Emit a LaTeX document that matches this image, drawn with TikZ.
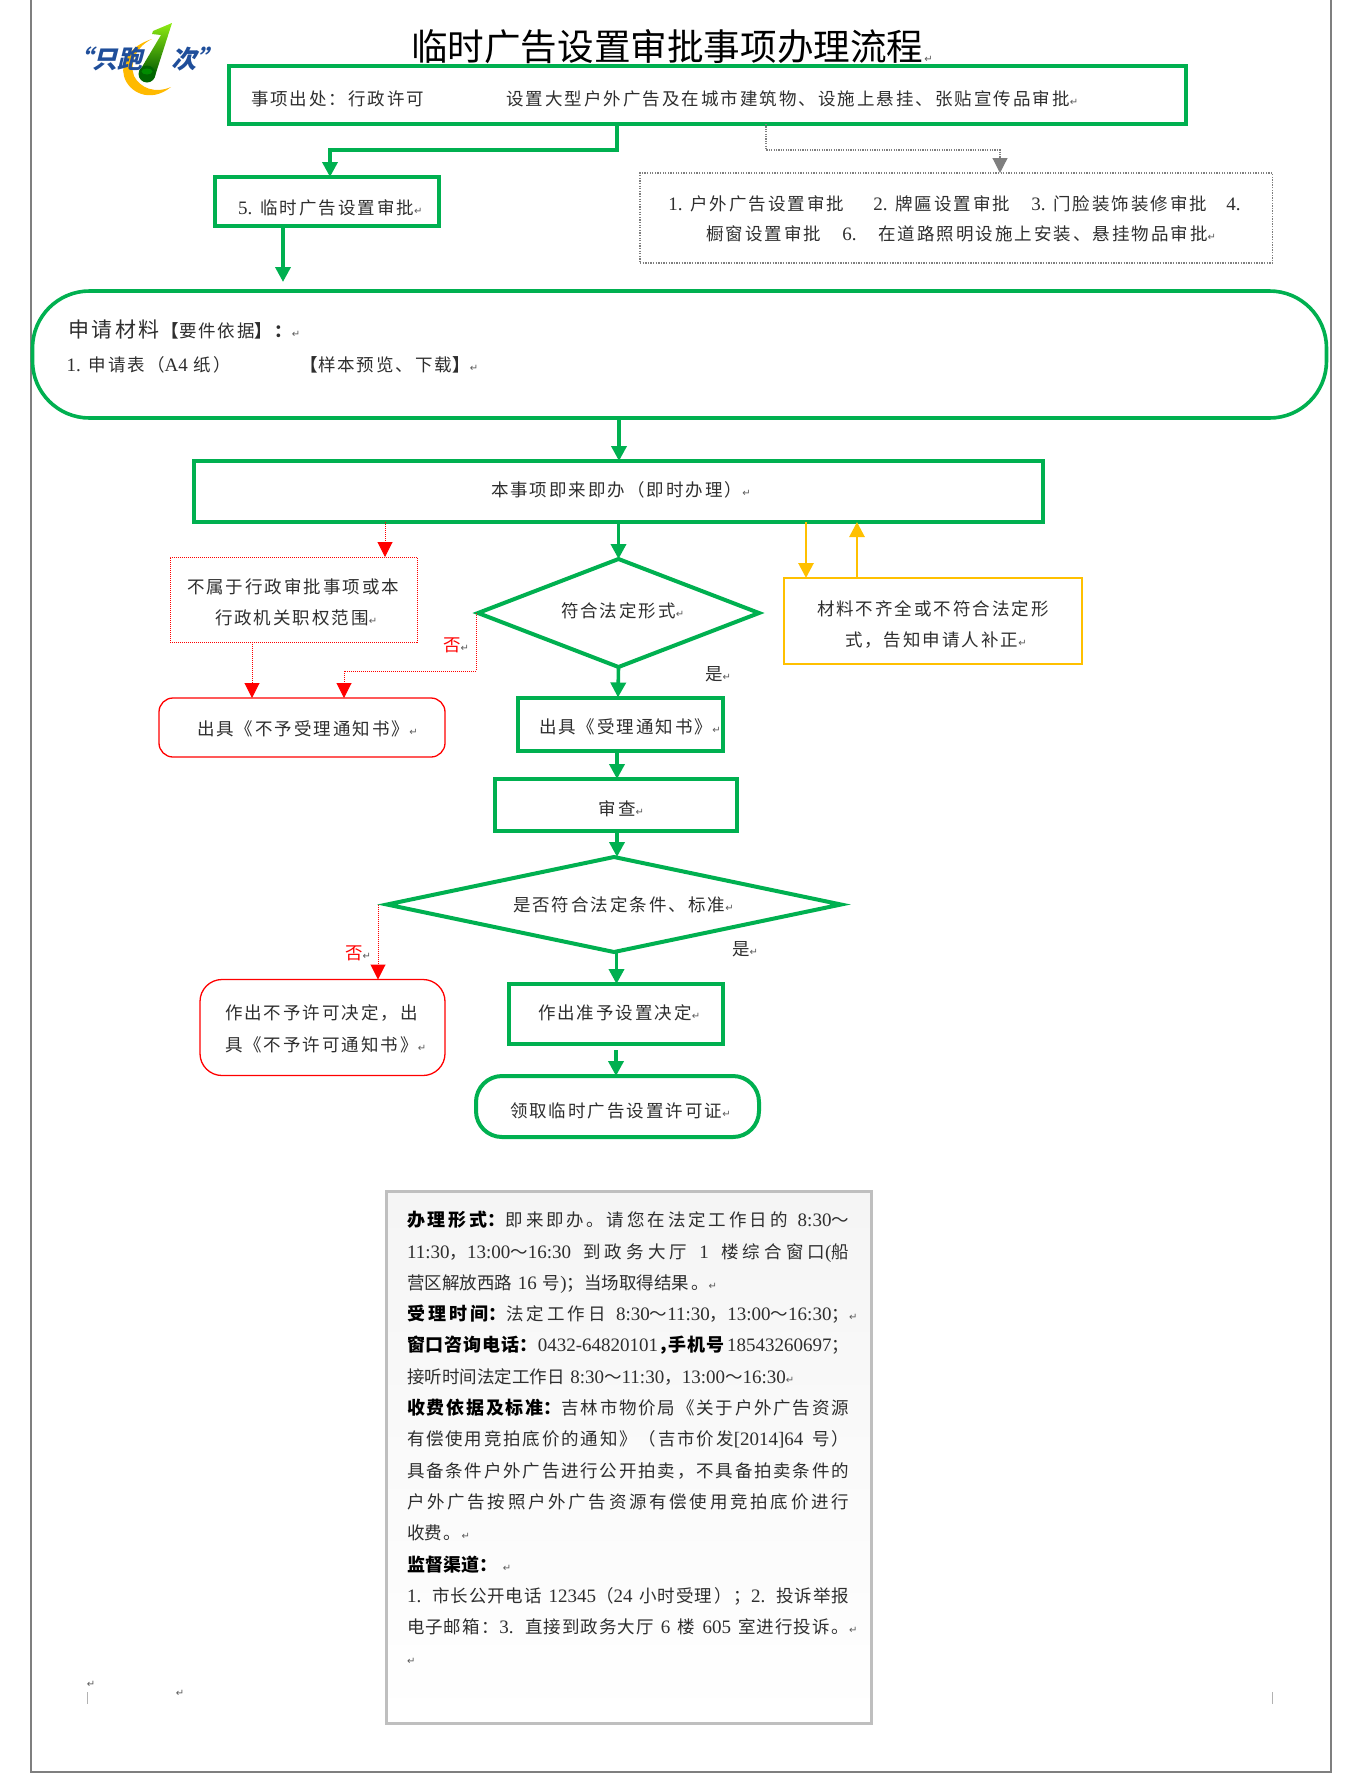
\documentclass[tikz,border=0pt]{standalone}
\usepackage{fontspec}
\usetikzlibrary{arrows.meta,calc,shapes.geometric}
\setmainfont{Noto Sans CJK SC}[LetterSpace=11.4]
\newfontfamily\plainf{Noto Sans CJK SC}
\newfontfamily\logof{Noto Sans CJK SC}[FakeSlant=0.25]
\newfontfamily\latf{Liberation Serif}
\newfontfamily\dejavu{DejaVu Sans}
\definecolor{gr}{HTML}{00B050}
\definecolor{rd}{HTML}{FF0000}
\definecolor{yl}{HTML}{FFC000}
\definecolor{gy}{HTML}{7F7F7F}
\definecolor{bodyc}{HTML}{2E2E2E}
\definecolor{markc}{HTML}{5A5A5A}
\definecolor{logob}{HTML}{1F4E9A}
\newcommand\tx[3]{\raisebox{\dimexpr-#2pt-7.3pt\relax}[0pt][0pt]{\makebox[0pt][l]{\kern#1pt\relax #3}}}
\newcommand\rmk{{\dejavu\fontsize{10}{10}\selectfont\textcolor{markc}{↵}}}
\newcommand\dg[1]{{\latf\fontsize{19}{31.3}\selectfont #1}}
\newcommand\hd[1]{{\plainf\bfseries\fontsize{18}{31.3}\selectfont\color{black}#1}}
\tikzset{
  x=1pt,y=-1pt,
  every node/.style={inner sep=0pt,outer sep=0pt,text=bodyc,font=\fontsize{17.5}{20}\selectfont},
  gbox/.style={draw=gr,line width=4pt,rectangle},
  gdia/.style={draw=gr,line width=4pt,diamond},
  rdot/.style={draw=rd,line width=1pt,densely dotted,rectangle},
  rrnd/.style={draw=rd,line width=1.3pt,rectangle},
  ylbox/.style={draw=yl,line width=2.8pt,rectangle},
  gydot/.style={draw=gy,line width=1.3pt,dash pattern=on 1.3pt off 1.3pt,rectangle},
  garrow/.style={draw=gr,line width=3.6pt,-{Triangle[length=15pt,width=15pt,fill=gr]}},
  rarrow/.style={draw=rd,line width=1pt,densely dotted,-{Triangle[length=15pt,width=15pt,fill=rd]}},
  yarrow/.style={draw=yl,line width=2.8pt,-{Triangle[length=15pt,width=15pt,fill=yl]}},
  gyarrow/.style={draw=gy,line width=1.2pt,dash pattern=on 1.2pt off 1.2pt,-{Triangle[length=15pt,width=15pt,fill=gy]}},
  pageline/.style={draw=gy,line width=1.6pt},
  ticksty/.style={draw=gray!60,line width=.8pt},
  logotext/.style={anchor=west,text=logob,font=\logof\bfseries\fontsize{25}{25}\selectfont},
}
\begin{document}
\begin{tikzpicture}
\useasboundingbox (0,0) rectangle (1364,1781);
% page frame
\draw[pageline] (31,0) -- (31,1772) -- (1331,1772) -- (1331,0);

% logo
\fill[yl!90!orange] (152,39) .. controls (130,46) and (120,62) .. (124,76)
  .. controls (128,92) and (150,104) .. (171,87)
  .. controls (155,94) and (140,88) .. (134,76)
  .. controls (129,62) and (137,46) .. (152,39) -- cycle;
\shade[top color=gr!30!yellow!80!green, bottom color=green!35!black]
  (172,23) -- (155,76) -- (139,72) -- (161,35) -- (152,34) -- (153,31) -- cycle;
\fill[green!40!black] (147,74) circle (8.5);
\fill[green!55!black] (147,71.5) ellipse (5.5 and 3);
\node[logotext] (logoa) at (67,59) {“只跑};
\node[logotext] (logob) at (171,59) {次”};

% title
\node[anchor=west,text=black,font=\plainf\fontsize{36.6}{36.6}\selectfont] (title) at (411,47) {临时广告设置审批事项办理流程\hspace{1pt}\raisebox{-2pt}{\rmk}};

% boxes
\node[gbox,minimum width=957pt,minimum height=58pt] (box1) at (707.5,95)
  {\tx{-456.5}{3}{事项出处：行政许可}\tx{-201}{3}{设置大型户外广告及在城市建筑物、设施上悬挂、张贴宣传品审批\rmk}};
\node[gbox,minimum width=224pt,minimum height=49pt] (box2) at (327,201.5)
  {\tx{-89}{5.5}{\dg{5.} 临时广告设置审批\rmk}};
\node[gydot,minimum width=632.5pt,minimum height=90pt] (dotbox) at (956.25,218)
  {\tx{-288}{-15}{\dg{1.} 户外广告设置审批}\tx{-83}{-15}{\dg{2.} 牌匾设置审批}\tx{75}{-15}{\dg{3.} 门脸装饰装修审批}\tx{270}{-15}{\dg{4.}}%
   \tx{-250}{15}{橱窗设置审批}\tx{-114}{15}{\dg{6.}}\tx{-78}{15}{在道路照明设施上安装、悬挂物品审批\rmk}};
\node[gbox,line width=3.6pt,rounded corners=57pt,minimum width=1294pt,minimum height=127pt] (bigbox) at (679.5,354.5)
  {\tx{-611}{-24.5}{\fontsize{21}{24}\selectfont 申请材料}\tx{-518}{-24.5}{{\bfseries 【}要件依据{\bfseries 】：}\rmk}%
   \tx{-613}{9.5}{\dg{1.} 申请表（\dg{A4} 纸）}\tx{-379}{9.5}{{\bfseries 【}样本预览、下载{\bfseries 】}\rmk}};
\node[gbox,minimum width=849pt,minimum height=61pt] (box3) at (618.5,491.5)
  {\tx{-127.5}{-2.5}{本事项即来即办（即时办理）\rmk}};
\node[rdot,minimum width=247pt,minimum height=85pt] (redbox) at (293.5,599.5)
  {\tx{-106.5}{-13.5}{不属于行政审批事项或本}\tx{-78.5}{17.5}{行政机关职权范围\rmk}};
\node[rrnd,rounded corners=14pt,minimum width=286pt,minimum height=59pt] (redr1) at (302,727.5)
  {\tx{-105}{0.5}{出具《不予受理通知书》\rmk}};
\node[gdia,minimum width=281pt,minimum height=108pt] (dia1) at (618.5,613)
  {\tx{-57.5}{-3}{符合法定形式\rmk}};
\node[gbox,minimum width=205pt,minimum height=53pt] (box4) at (620,724)
  {\tx{-81}{2}{出具《受理通知书》\rmk}};
\node[gbox,minimum width=242pt,minimum height=52pt] (box5) at (616,805)
  {\tx{-17.5}{3}{审查\rmk}};
\node[gdia,minimum width=454pt,minimum height=95pt] (dia2) at (614,904.5)
  {\tx{-101}{-0.5}{是否符合法定条件、标准\rmk}};
\node[gbox,minimum width=214pt,minimum height=60pt] (box6) at (616,1014)
  {\tx{-78}{-2}{作出准予设置决定\rmk}};
\node[gbox,rounded corners=26pt,minimum width=283pt,minimum height=61pt] (finish) at (617.5,1106.5)
  {\tx{-107.5}{3.5}{领取临时广告设置许可证\rmk}};
\node[rrnd,rounded corners=22pt,minimum width=245pt,minimum height=96pt] (redr2) at (322.5,1027.5)
  {\tx{-97.5}{-15.5}{作出不予许可决定，出}\tx{-97.5}{16.5}{具《不予许可通知书》\rmk}};
\node[ylbox,minimum width=298pt,minimum height=86pt] (ybox) at (933,621)
  {\tx{-116}{-13}{材料不齐全或不符合法定形}\tx{-88}{18}{式，告知申请人补正\rmk}};

% labels
\node[anchor=west,text=rd] (no1) at (443,645) {否\rmk};
\node[anchor=west,text=rd] (no2) at (345,953) {否\rmk};
\node[anchor=west] (yes1) at (705,674) {是\rmk};
\node[anchor=west] (yes2) at (732,949) {是\rmk};

% info box
\node[draw=gray!50,line width=3pt,top color=black!4,middle color=black!3,bottom color=white,rectangle,minimum width=485pt,minimum height=532pt] (info) at (628.5,1457)
  {\tx{-221.5}{-253}{\parbox[t]{442pt}{\XeTeXlinebreaklocale "zh"\XeTeXlinebreakskip=0pt plus 2pt\fontsize{17.5}{31.3}\selectfont\parindent=0pt\hfuzz=20pt\tolerance=9999\emergencystretch=30pt
  \hd{办理形式：}即来即办。请您在法定工作日的\ \dg{8:30}～\linebreak[4]
  \dg{11:30}，\dg{13:00}～\dg{16:30} 到政务大厅 \dg{1} 楼综合窗口\dg{(}船\linebreak[4]
  营区解放西路 \dg{16} 号\dg{)}；当场取得结果。\rmk\par
  \hd{受理时间：}法定工作日 \dg{8:30}～\dg{11:30}，\dg{13:00}～\dg{16:30}；\rlap{\rmk}\linebreak[4]
  \hd{窗口咨询电话：}\dg{0432-64820101}\hd{，\kern-8pt 手机号}\,\dg{18543260697}；\linebreak[4]
  接听时间法定工作日 \dg{8:30}～\dg{11:30}，\dg{13:00}～\dg{16:30}\rmk\par
  \hd{收费依据及标准：}吉林市物价局《关于户外广告资源\linebreak[4]
  有偿使用竞拍底价的通知》（吉市价发\dg{[2014]64} 号）\linebreak[4]
  具备条件户外广告进行公开拍卖，不具备拍卖条件的\linebreak[4]
  户外广告按照户外广告资源有偿使用竞拍底价进行\linebreak[4]
  收费。\rmk\par
  \hd{监督渠道：}\ \rmk\par
  \dg{1.} 市长公开电话 \dg{12345}（\dg{24} 小时受理）；\dg{2.} 投诉举报\linebreak[4]
  电子邮箱：\dg{3.} 直接到政务大厅 \dg{6} 楼 \dg{605} 室进行投诉。\rlap{\rmk}\linebreak[4]
  \rmk\par}}};

% footer marks
\node (fm1) at (91,1684) {\rmk};
\node (fm2) at (180,1693) {\rmk};
\draw[ticksty] (87,1692) -- (87,1704);
\draw[ticksty] (1272,1692) -- (1272,1704);

% connectors
\coordinate (bfree) at (283,282);
\draw[garrow] ($(box1.south)+(-90.5,0)$) -- ++(0,26) -| ($(box2.north)+(3,0)$);
\draw[gyarrow] ($(box1.south)+(58.5,0)$) -- ++(0,26) -| ($(dotbox.north)+(43.75,0)$);
\draw[garrow] ($(box2.south)+(-44,0)$) -- (bfree);
\draw[garrow] ($(bigbox.south)+(-60.5,0)$) -- ($(box3.north)+(0.5,0)$);
\draw[garrow] (box3.south) -- (dia1.north);
\draw[garrow] (dia1.south) -- ($(box4.north)+(-2,0)$);
\draw[garrow] ($(box4.south)+(-3,0)$) -- ($(box5.north)+(1,0)$);
\draw[garrow] ($(box5.south)+(1,0)$) -- ($(dia2.north)+(3,0)$);
\draw[garrow] ($(dia2.south)+(2.5,0)$) -- ($(box6.north)+(0.5,0)$);
\draw[garrow] ($(box6.south)+(0,6)$) -- (finish.north -| box6.south);
\draw[rarrow] ($(box3.south)+(-233.5,0)$) -- ($(redbox.north)+(91.5,0)$);
\draw[rarrow] ($(redbox.south)+(-41.5,0)$) -- ($(redr1.north)+(-50,0)$);
\draw[rarrow] ($(dia1.west)+(-2,0)$) -- ++(0,58) -| ($(redr1.north)+(42,0)$);
\draw[rarrow] ($(dia2.west)+(-9,0)$) -- ($(redr2.north)+(55.5,0)$);
\draw[yarrow] ($(box3.south)+(187.5,0)$) -- ($(ybox.north)+(-127,0)$);
\draw[yarrow] ($(ybox.north)+(-76,0)$) -- ($(box3.south)+(238.5,0)$);
\end{tikzpicture}
\end{document}
